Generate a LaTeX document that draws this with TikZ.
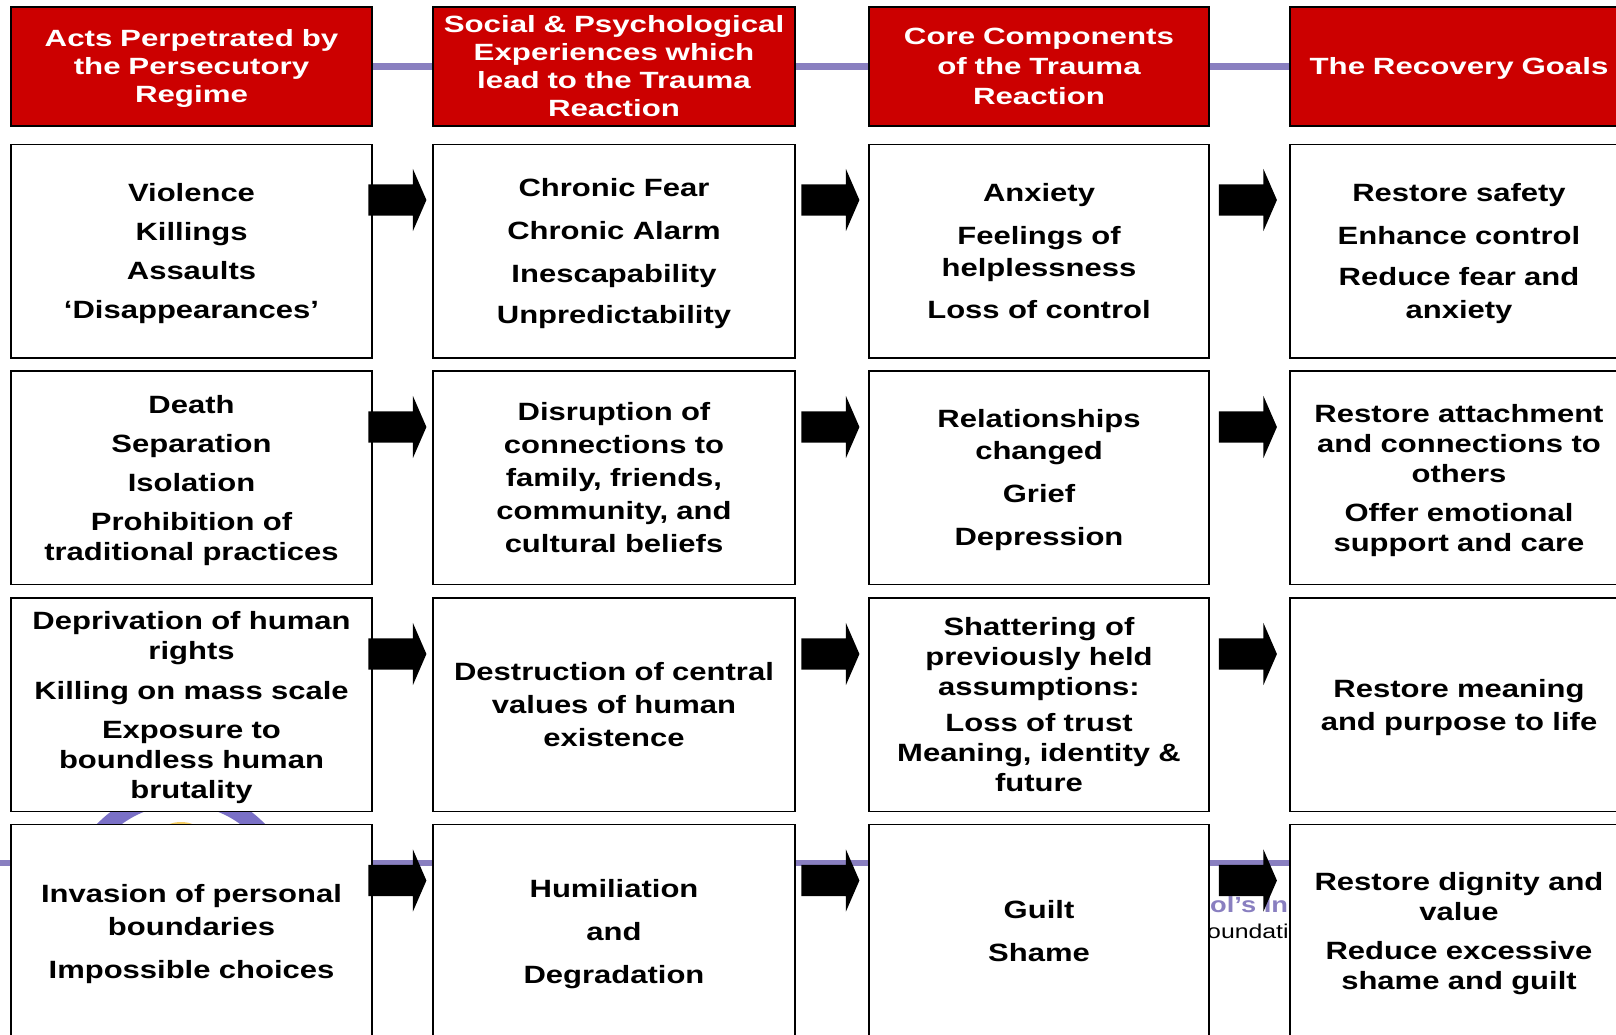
\documentclass[tikz,border=0pt]{standalone}
\usepackage{fontspec}
\newfontfamily\boxfont{Liberation Sans}[FakeStretch=1.24]
\newfontfamily\headfont{Liberation Sans}[FakeStretch=1.33]
\usepackage{tikz}
\tikzset{>=latex}
\usetikzlibrary{shapes.arrows,backgrounds}
\definecolor{slidered}{RGB}{204,0,0}
\definecolor{slidelilac}{RGB}{137,127,192}
\definecolor{logolilac}{RGB}{122,112,198}
\definecolor{logoyellow}{RGB}{245,205,100}

\begin{document}
\begin{tikzpicture}[x=1pt,y=-1pt]
  \tikzstyle{headbox}=[draw=black,line width=1.5pt,fill=slidered,text=white,align=center,minimum height=119pt,font=\headfont\bfseries\fontsize{23.5}{28}\selectfont,
    execute at begin node={\rule{0pt}{21.5pt}},execute at end node={\rule[-5.5pt]{0pt}{5.5pt}}];
  \tikzstyle{itembox}=[draw=black,line width=1.5pt,fill=white,align=center,minimum height=213.5pt,font=\boxfont\bfseries\fontsize{25}{30}\selectfont,
    execute at begin node={\rule{0pt}{24pt}},execute at end node={\rule[-6pt]{0pt}{6pt}}];
  \tikzstyle{colone}=[minimum width=361pt,text width=352pt];
  \tikzstyle{coltwo}=[minimum width=362pt,text width=353pt];
  \tikzstyle{colthree}=[minimum width=340pt,text width=331pt];
  \tikzstyle{colfour}=[minimum width=338pt,text width=329pt];
  \tikzstyle{blockarrow}=[single arrow,fill=black,inner sep=0pt,minimum height=58pt,single arrow head extend=15.5pt,single arrow tip angle=133];
  \useasboundingbox (0,0) rectangle (1616,1034);

  % column titles
  \node[headbox,colone] (h1) at (191.5,66.5) {Acts Perpetrated by\\the Persecutory\\Regime};
  \node[headbox,coltwo] (h2) at (614,66.5) {Social \& Psychological\\Experiences which\\lead to the Trauma\\Reaction};
  \node[headbox,colthree] (h3) at (1039,66.5) {Core Components\\[2pt]of the Trauma\\[2pt]Reaction};
  \node[headbox,colfour] (h4) at (1459,66.5) {The Recovery Goals};

  % row 1
  \node[itembox,colone] (b11) at (191.5,251) {Violence\\[9pt]Killings\\[9pt]Assaults\\[9pt]‘Disappearances’};
  \node[itembox,coltwo] (b12) at (614,251) {Chronic Fear\\[13pt]Chronic Alarm\\[13pt]Inescapability\\[11pt]Unpredictability};
  \node[itembox,colthree] (b13) at (1039,251) {Anxiety\\[13pt]Feelings of\\[2pt]helplessness\\[12pt]Loss of control};
  \node[itembox,colfour] (b14) at (1459,251) {Restore safety\\[13pt]Enhance control\\[11pt]Reduce fear and\\[3pt]anxiety};

  % row 2
  \node[itembox,colone] (b21) at (191.5,477.8) {Death\\[9pt]Separation\\[9pt]Isolation\\[9pt]Prohibition of\\traditional practices};
  \node[itembox,coltwo] (b22) at (614,477.8) {Disruption of\\[3pt]connections to\\[3pt]family, friends,\\[3pt]community, and\\[3pt]cultural beliefs};
  \node[itembox,colthree] (b23) at (1039,477.8) {Relationships\\[2pt]changed\\[13pt]Grief\\[13pt]Depression};
  \node[itembox,colfour] (b24) at (1459,477.8) {Restore attachment\\and connections to\\others\\[9pt]Offer emotional\\support and care};

  % row 3
  \node[itembox,colone] (b31) at (191.5,704.6) {Deprivation of human\\rights\\[10pt]Killing on mass scale\\[9pt]Exposure to\\boundless human\\brutality};
  \node[itembox,coltwo] (b32) at (614,704.6) {Destruction of central\\[3pt]values of human\\[3pt]existence};
  \node[itembox,colthree] (b33) at (1039,704.6) {Shattering of\\previously held\\assumptions:\\[6pt]Loss of trust\\Meaning, identity \&\\future};
  \node[itembox,colfour] (b34) at (1459,704.6) {Restore meaning\\[3pt]and purpose to life};

  % row 4
  \node[itembox,colone] (b41) at (191.5,931.4) {Invasion of personal\\[3pt]boundaries\\[13pt]Impossible choices};
  \node[itembox,coltwo] (b42) at (614,931.4) {Humiliation\\[13pt]and\\[13pt]Degradation};
  \node[itembox,colthree] (b43) at (1039,931.4) {Guilt\\[13pt]Shame};
  \node[itembox,colfour] (b44) at (1459,931.4) {Restore dignity and\\value\\[9pt]Reduce excessive\\shame and guilt};

  % block arrows between the columns
  \foreach \r/\y in {1/200,2/427,3/654,4/880.5}{
    \node[blockarrow] (a\r1) at (394,\y) {\rule{0pt}{31pt}};
    \node[blockarrow] (a\r2) at (827,\y) {\rule{0pt}{31pt}};
    \node[blockarrow] (a\r3) at (1244.5,\y) {\rule{0pt}{31pt}};
  }

  % slide background showing through
  \begin{scope}[on background layer]
    \draw[slidelilac,line width=6.5pt] (h1) -- (h4);
    \draw[slidelilac,line width=6.5pt] (0,863) -- (1616,863);
    \draw[logolilac,line width=16.5pt] (181,905) circle (108.5);
    \fill[logoyellow] (181,856) circle (34);
    \node[anchor=base west,inner sep=0pt,text=slidelilac,font=\boxfont\bfseries\fontsize{22}{26}\selectfont] (frag1) at (1210,912) {ol’s In};
    \node[anchor=base west,inner sep=0pt,font=\boxfont\fontsize{20}{24}\selectfont] (frag2) at (1207,938) {oundati};
  \end{scope}
\end{tikzpicture}
\end{document}
